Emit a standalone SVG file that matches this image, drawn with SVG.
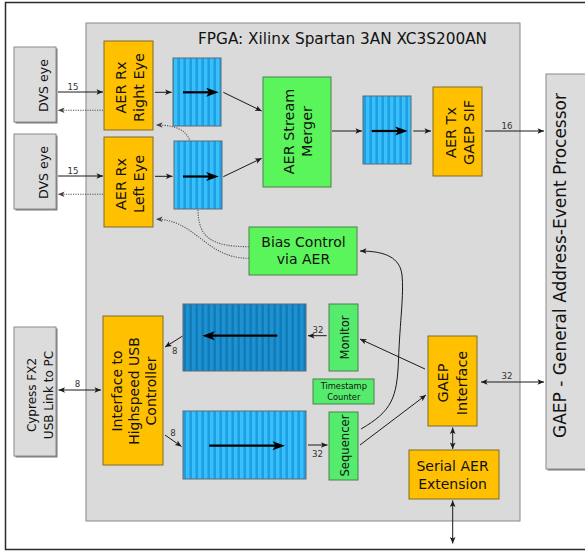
<svg xmlns="http://www.w3.org/2000/svg" width="585" height="552" viewBox="0 0 585 552">
<style>
text{font-family:"DejaVu Sans","Liberation Sans",sans-serif;fill:#111}
.ext{fill:#dcdcdc;stroke:#8a8a8a;stroke-width:1}
.shadow{fill:#7a7a7a}
.org{fill:#ffc000;stroke:#7f6a2a;stroke-width:1}
.grn{fill:#5af55a;stroke:#4f7f4f;stroke-width:1}
.grn2{fill:#55ec6e;stroke:#4f7f4f;stroke-width:1}
.fin{fill:url(#stripeL);stroke:#5a6a78;stroke-width:1}
.fout{fill:url(#stripeD);stroke:#5a6a78;stroke-width:1}
.c{fill:none;stroke:#1a1a1a;stroke-width:1;marker-end:url(#ah)}
.cb{fill:none;stroke:#1a1a1a;stroke-width:1;marker-start:url(#ah);marker-end:url(#ah)}
.dot{fill:none;stroke:#555;stroke-width:1.1;stroke-dasharray:1.2 1.2;marker-end:url(#ahg)}
.big{fill:none;stroke:#000;stroke-width:2.2;marker-end:url(#ahb)}
.lbl{font-size:8.6px;fill:#333;text-anchor:middle}
.t14{font-size:14.4px;text-anchor:middle}
</style>
<defs>
<marker id="ah" viewBox="-7 -4 8 8" refX="0" refY="0" markerWidth="8" markerHeight="8" orient="auto-start-reverse" markerUnits="userSpaceOnUse"><path d="M0,0 L-6.5,-2.8 L-5,0 L-6.5,2.8 z" fill="#1a1a1a"/></marker>
<marker id="ahg" viewBox="-7 -4 8 8" refX="0" refY="0" markerWidth="8" markerHeight="8" orient="auto" markerUnits="userSpaceOnUse"><path d="M0,0 L-6.5,-2.8 L-5,0 L-6.5,2.8 z" fill="#444"/></marker>
<marker id="ahb" viewBox="-14 -6 16 12" refX="-6" refY="0" markerWidth="16" markerHeight="12" orient="auto" markerUnits="userSpaceOnUse"><path d="M0,0 L-12.5,-4.5 L-9.5,0 L-12.5,4.5 z" fill="#000"/></marker>
<pattern id="stripeL" width="6" height="10" patternUnits="userSpaceOnUse"><rect width="6" height="10" fill="#1e9fe4"/><rect width="3.4" height="10" fill="#38c0fb"/></pattern>
<pattern id="stripeD" width="6" height="10" patternUnits="userSpaceOnUse"><rect width="6" height="10" fill="#127cb8"/><rect width="3.4" height="10" fill="#1d92d2"/></pattern>
</defs>

<rect x="5.5" y="2.5" width="620" height="547" fill="#fff" stroke="#2a2a2a" stroke-width="1.5"/>

<g id="fpga">
<rect x="86" y="23" width="434" height="498" fill="#dadada" stroke="#888" stroke-width="1"/>
<text x="198" y="44.3" style="font-size:15.3px">FPGA: Xilinx Spartan 3AN XC3S200AN</text>
</g>

<g id="connectors">
<path class="dot" d="M249,246.7 C212,246.7 198,238 198,209 L190,141 C186,130 176,125 156,125"/>
<path class="dot" d="M249,258.3 C205,258.3 196,219.3 156,219.3"/>
<line class="c" x1="58" y1="92" x2="103" y2="92"/>
<line class="dot" x1="103" y1="110.3" x2="58" y2="110.3"/>
<line class="c" x1="58" y1="176" x2="103" y2="176"/>
<line class="dot" x1="103" y1="194.3" x2="58" y2="194.3"/>
<line class="c" x1="155" y1="92.3" x2="171.7" y2="92.3"/>
<line class="c" x1="155" y1="176.3" x2="172.5" y2="176.3"/>
<line class="c" x1="223.3" y1="92.3" x2="261.7" y2="111"/>
<line class="c" x1="223.3" y1="176.7" x2="261.7" y2="158.3"/>
<line class="c" x1="332" y1="131" x2="362" y2="131"/>
<line class="c" x1="413.3" y1="131" x2="431" y2="131"/>
<line class="c" x1="485" y1="131" x2="544" y2="131"/>
<line class="cb" x1="58.5" y1="390" x2="101" y2="390"/>
<line class="c" x1="182.7" y1="336" x2="165" y2="347"/>
<line class="c" x1="165" y1="435" x2="181.5" y2="446.5"/>
<line class="c" x1="326.7" y1="335.7" x2="308" y2="335.7"/>
<line class="c" x1="308" y1="445" x2="327.5" y2="445"/>
<line class="c" x1="425" y1="369" x2="360" y2="339"/>
<line class="c" x1="360" y1="445" x2="426" y2="395"/>
<path class="c" d="M361,429 C392,411 397,398 398.5,360 C400,320 404,295 402,275 C400,258 386,251 360,251"/>
<line class="cb" x1="481" y1="382" x2="544" y2="382"/>
<line class="cb" x1="452.7" y1="427.5" x2="452.7" y2="449"/>
<line class="cb" x1="452.7" y1="500.5" x2="452.7" y2="543.5"/>
<text class="lbl" x="73" y="89.5">15</text>
<text class="lbl" x="73" y="174">15</text>
<text class="lbl" x="507" y="128.7">16</text>
<text class="lbl" x="507" y="378.7">32</text>
<text class="lbl" x="318" y="332.7">32</text>
<text class="lbl" x="317.5" y="456.7">32</text>
<text class="lbl" x="77.5" y="386.7">8</text>
<text class="lbl" x="174.7" y="354.3">8</text>
<text class="lbl" x="173" y="436">8</text>
</g>

<g id="dvs-right">
<rect class="shadow" x="15.5" y="48.5" width="42" height="75"/>
<rect class="ext" x="14" y="47" width="42" height="75"/>
<text transform="translate(48,85.5) rotate(-90)" style="font-size:12.6px" text-anchor="middle">DVS eye</text>
</g>
<g id="dvs-left">
<rect class="shadow" x="15.5" y="135.5" width="42" height="75"/>
<rect class="ext" x="14" y="134" width="42" height="75"/>
<text transform="translate(48,172.5) rotate(-90)" style="font-size:12.6px" text-anchor="middle">DVS eye</text>
</g>
<g id="cypress">
<rect class="shadow" x="15.5" y="328.5" width="42" height="129"/>
<rect class="ext" x="14" y="327" width="42" height="129"/>
<text transform="translate(36,395) rotate(-90)" style="font-size:12px" text-anchor="middle"><tspan x="0" y="0">Cypress FX2</tspan><tspan x="0" y="17">USB Link to PC</tspan></text>
</g>
<g id="gaep">
<rect class="shadow" x="547.5" y="75.5" width="60" height="395"/>
<rect class="ext" x="546" y="74" width="60" height="395"/>
<text transform="translate(566,265.5) rotate(-90)" style="font-size:17px" text-anchor="middle">GAEP - General Address-Event Processor</text>
</g>

<g id="rx-right">
<rect class="org" x="104" y="41" width="49" height="89"/>
<text class="t14" transform="translate(126,87.5) rotate(-90)"><tspan x="0" y="0">AER Rx</tspan><tspan x="0" y="18">Right Eye</tspan></text>
</g>
<g id="rx-left">
<rect class="org" x="104" y="137" width="49" height="90"/>
<text class="t14" transform="translate(126,184) rotate(-90)"><tspan x="0" y="0">AER Rx</tspan><tspan x="0" y="18">Left Eye</tspan></text>
</g>
<g id="fifo-right">
<rect class="fin" x="173" y="58" width="48" height="68"/>
<line class="big" x1="183" y1="92.3" x2="212.7" y2="92.3"/>
</g>
<g id="fifo-left">
<rect class="fin" x="174" y="141" width="48" height="68"/>
<line class="big" x1="183" y1="176.5" x2="212.7" y2="176.5"/>
</g>
<g id="merger">
<rect class="grn" x="263" y="77" width="68" height="110"/>
<text class="t14" transform="translate(294,131.5) rotate(-90)"><tspan x="0" y="0">AER Stream</tspan><tspan x="0" y="18">Merger</tspan></text>
</g>
<g id="fifo-out">
<rect class="fin" x="363" y="96" width="48" height="68"/>
<line class="big" x1="371.7" y1="131" x2="401.7" y2="131"/>
</g>
<g id="tx">
<rect class="org" x="433" y="87" width="49" height="89"/>
<text class="t14" transform="translate(456,132.5) rotate(-90)"><tspan x="0" y="0">AER Tx</tspan><tspan x="0" y="17.5">GAEP SIF</tspan></text>
</g>
<g id="bias">
<rect class="grn" x="249" y="227" width="108" height="48"/>
<text x="303.5" y="246.7" style="font-size:14px" text-anchor="middle">Bias Control</text>
<text x="303.5" y="264.2" style="font-size:14px" text-anchor="middle">via AER</text>
</g>
<g id="usb-if">
<rect class="org" x="103" y="316" width="60" height="149"/>
<text transform="translate(121.5,391) rotate(-90)" style="font-size:14px" text-anchor="middle"><tspan x="0" y="0">Interface to</tspan><tspan x="0" y="17.3">Highspeed USB</tspan><tspan x="0" y="34.6">Controller</tspan></text>
</g>
<g id="fifo-monitor">
<rect class="fout" x="183" y="304" width="123" height="67"/>
<line class="big" x1="277.3" y1="335.7" x2="208.3" y2="335.7"/>
</g>
<g id="fifo-seq">
<rect class="fin" x="183" y="411" width="123" height="68"/>
<line class="big" x1="209.3" y1="445.7" x2="279" y2="445.7"/>
</g>
<g id="monitor">
<rect class="grn2" x="329" y="304" width="29" height="67"/>
<text transform="translate(349,337.5) rotate(-90)" style="font-size:11.6px" text-anchor="middle">Monitor</text>
</g>
<g id="timestamp">
<rect class="grn2" x="313" y="379" width="61" height="25"/>
<text x="343.8" y="389.3" style="font-size:8.3px" text-anchor="middle">Timestamp</text>
<text x="343.8" y="399.6" style="font-size:8.3px" text-anchor="middle">Counter</text>
</g>
<g id="sequencer">
<rect class="grn2" x="329" y="412" width="29" height="68"/>
<text transform="translate(349,445.5) rotate(-90)" style="font-size:11.6px" text-anchor="middle">Sequencer</text>
</g>
<g id="gaep-if">
<rect class="org" x="428" y="336" width="49" height="90"/>
<text class="t14" transform="translate(448,383) rotate(-90)"><tspan x="0" y="0">GAEP</tspan><tspan x="0" y="18.5">Interface</tspan></text>
</g>
<g id="serial">
<rect class="org" x="409" y="450" width="90" height="49"/>
<text x="452.5" y="470.7" style="font-size:14px" text-anchor="middle">Serial AER</text>
<text x="452.5" y="489" style="font-size:14px" text-anchor="middle">Extension</text>
</g>
</svg>
